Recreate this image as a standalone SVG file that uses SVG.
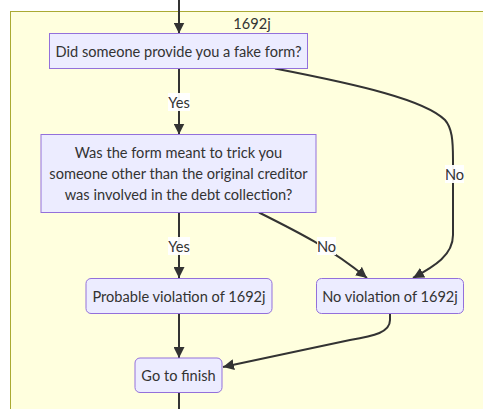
<svg xmlns="http://www.w3.org/2000/svg" width="483" height="409" viewBox="0 0 483 409">
<defs>
<marker id="arrow" viewBox="0 0 10 10" refX="10" refY="5" markerWidth="11" markerHeight="11" markerUnits="userSpaceOnUse" orient="auto">
<path d="M0,0 L10,5 L0,10 z" fill="#333333"/>
</marker>
<style>
.cluster{fill:#ffffde;stroke:#aaaa33;stroke-width:1}
.node rect{fill:#ececff;stroke:#9370db;stroke-width:1}
text{font-family:Lato,"Liberation Sans",sans-serif;font-size:14.6px;fill:#333333;text-anchor:middle;dominant-baseline:central}
.edge{fill:none;stroke:#333333;stroke-width:2}
.lbl{fill:#ffffff;opacity:0.95}
</style>
</defs>
<rect class="cluster" x="10.5" y="11.5" width="480" height="410"/>
<text x="252" y="23">1692j</text>
<g id="connectors">
<path class="edge" d="M179,0 L179,33.5" marker-end="url(#arrow)"/>
<path class="edge" d="M179,68.5 L179,134.5" marker-end="url(#arrow)"/>
<path class="edge" d="M275,68.5 C360,85 425,100 445,120 C452,128 453,140 453,160 L453,235 C453,255 435,266 413,278" marker-end="url(#arrow)"/>
<path class="edge" d="M179,212.5 L179,278" marker-end="url(#arrow)"/>
<path class="edge" d="M259,212.5 C300,233 330,248 367,278" marker-end="url(#arrow)"/>
<path class="edge" d="M179,313.5 L179,358" marker-end="url(#arrow)"/>
<path class="edge" d="M390,313.5 L390,320 C390,332 375,336 350,340 L223,367" marker-end="url(#arrow)"/>
<path class="edge" d="M179,392.5 L179,409"/>
<g id="label-yes1"><rect class="lbl" x="168" y="93" width="22" height="18"/><text x="179" y="102">Yes</text></g>
<g id="label-no1"><rect class="lbl" x="445" y="165" width="19" height="18"/><text x="454.5" y="174">No</text></g>
<g id="label-yes2"><rect class="lbl" x="168" y="237" width="22" height="18"/><text x="179" y="246">Yes</text></g>
<g id="label-no2"><rect class="lbl" x="317" y="237" width="19" height="18"/><text x="326.5" y="246">No</text></g>
</g>
<g id="q1" class="node"><rect x="49.5" y="33.5" width="258" height="35"/><text x="178.5" y="51">Did someone provide you a fake form?</text></g>
<g id="q2" class="node"><rect x="41" y="134.5" width="275" height="78"/>
<text x="178.5" y="152.5">Was the form meant to trick you</text>
<text x="178.5" y="173.5">someone other than the original creditor</text>
<text x="178.5" y="194.5">was involved in the debt collection?</text></g>
<g id="probable" class="node"><rect x="86" y="278.5" width="186" height="35" rx="5" ry="5"/><text x="179" y="296">Probable violation of 1692j</text></g>
<g id="noviolation" class="node"><rect x="316.5" y="278.5" width="147" height="35" rx="5" ry="5"/><text x="390" y="296">No violation of 1692j</text></g>
<g id="finish" class="node"><rect x="135" y="358" width="87" height="34.5" rx="5" ry="5"/><text x="178.5" y="375">Go to finish</text></g>
</svg>
